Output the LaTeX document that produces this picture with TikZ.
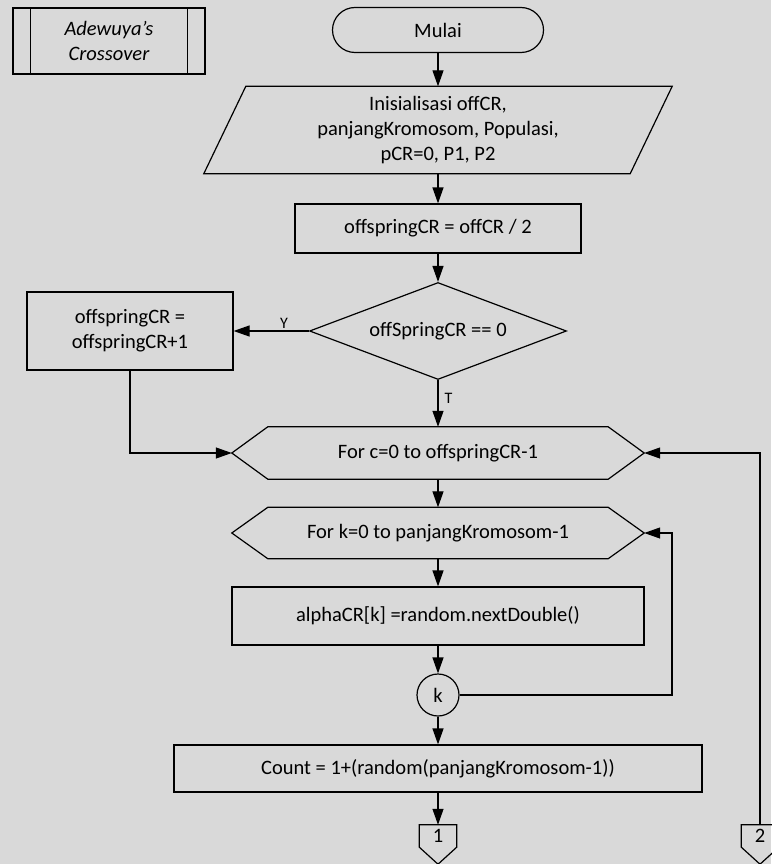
\documentclass[tikz,border=0pt]{standalone}
\usepackage{fontspec}
\setmainfont{Carlito}
\usepackage{xcolor}
\usetikzlibrary{arrows.meta, positioning, shapes.geometric, calc}
\definecolor{bgGray}{RGB}{217,217,217}

\begin{document}
\begin{tikzpicture}[x=1pt, y=-1pt,
  every node/.style={font=\fontsize{20.5}{25}\selectfont, inner sep=0pt, align=center},
  line/.style={line width=1.2pt},
  arr/.style={line width=1.2pt, -{Triangle[length=16pt, width=11pt]}},
  procbox/.style={draw, line width=1.2pt, rectangle},
  decision/.style={draw, line width=1.2pt, diamond, aspect=2.65, minimum width=257pt, minimum height=97pt},
  lbl/.style={font=\fontsize{16}{18}\selectfont}]
  % page: 771 x 864 px, 1 px = 1 pt, y runs downwards
  \useasboundingbox (0,0) rectangle (771,864);
  \fill[bgGray] (0,0) rectangle (771,864);
  % predefined process
  \node[procbox, minimum width=192pt, minimum height=66pt, font=\fontsize{20.5}{25}\selectfont\itshape] (pre) at (109,41) {Adewuya’s\\Crossover};
  \draw[line] ([xshift=18pt]pre.north west) -- ([xshift=18pt]pre.south west);
  \draw[line] ([xshift=-18pt]pre.north east) -- ([xshift=-18pt]pre.south east);
  % main column, x = 438
  \node[procbox, rounded corners=22.5pt, minimum width=211pt, minimum height=45pt] (start) at (438,30) {Mulai};
  \node[minimum width=426pt, minimum height=87pt] (init) at (438,130) {Inisialisasi offCR,\\panjangKromosom, Populasi,\\pCR=0, P1, P2};
  \draw[line] ([xshift=21pt]init.north west) -- ([xshift=21pt]init.north east)
    -- ([xshift=-21pt]init.south east) -- ([xshift=-21pt]init.south west) -- cycle;
  \node[procbox, minimum width=286pt, minimum height=49pt] (half) at (438,228.5) {offspringCR = offCR / 2};
  \node[decision] (cond) at (438,331) {offSpringCR == 0};
  \node[procbox, minimum width=206pt, minimum height=78pt] (inc) at (130,331) {offspringCR =\\offspringCR+1};
  % loop hexagons
  \node[minimum width=412pt, minimum height=52pt] (forc) at (438,453) {For c=0 to offspringCR-1};
  \node[minimum width=412pt, minimum height=51pt] (fork) at (438,533) {For k=0 to panjangKromosom-1};
  \foreach \n in {forc, fork} {
    \draw[line] (\n.west) -- ([xshift=36pt]\n.north west) -- ([xshift=-36pt]\n.north east)
      -- (\n.east) -- ([xshift=-36pt]\n.south east) -- ([xshift=36pt]\n.south west) -- cycle;
  }
  \node[procbox, minimum width=412pt, minimum height=58pt] (alpha) at (438,616) {alphaCR[k] =random.nextDouble()};
  \node[draw, line width=1.2pt, circle, minimum size=42pt] (kend) at (438,695) {k};
  \node[procbox, minimum width=528pt, minimum height=47pt] (count) at (438,768.5) {Count = 1+(random(panjangKromosom-1))};
  % off-page connectors
  \node[minimum width=37pt, minimum height=22pt] (off1) at (438,836) {1};
  \node[minimum width=37pt, minimum height=22pt] (off2) at (760,836) {2};
  \foreach \n in {off1, off2} {
    \draw[line] (\n.north west) -- (\n.north east) -- (\n.south east)
      -- ([yshift=-17pt]\n.south) -- (\n.south west) -- cycle;
  }
  \coordinate (kloop) at (672,533);
  % connectors
  \draw[arr] (start) -- (init);
  \draw[arr] (init) -- (half);
  \draw[arr] (half) -- (cond);
  \draw[arr] (cond.west) -- (inc.east) node[lbl, pos=0.33, above=2pt] {Y};
  \draw[arr] (cond.south) -- (forc.north) node[lbl, pos=0.4, right=6pt] {T};
  \draw[arr] (inc.south) |- (forc.west);
  \draw[arr] (forc) -- (fork);
  \draw[arr] (fork) -- (alpha);
  \draw[arr] (alpha) -- (kend);
  \draw[arr] (kend.east) -| (kloop) -- (fork.east);
  \draw[arr] (kend) -- (count);
  \draw[arr] (count) -- (off1);
  \draw[arr] (off2.north) |- (forc.east);
\end{tikzpicture}
\end{document}
